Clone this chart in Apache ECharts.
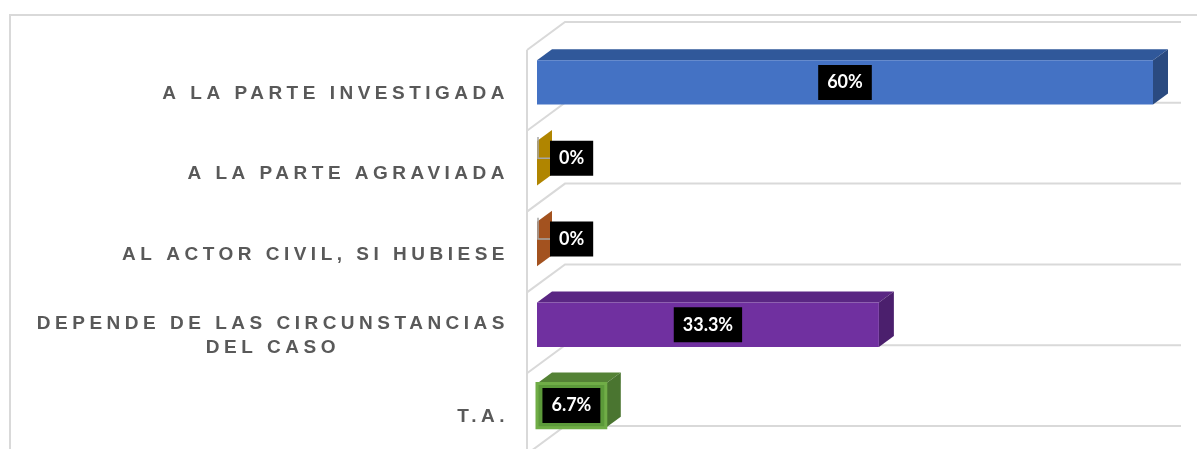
<!DOCTYPE html>
<html>
<head>
<meta charset="utf-8">
<title>chart</title>
<script src="https://cdn.jsdelivr.net/npm/echarts@6/dist/echarts.min.js"></script>
<style>
  html, body { margin: 0; padding: 0; background: #fff; }
  #chart { width: 1197px; height: 449px; }
</style>
</head>
<body>
<div id="chart"></div>
<script>
//datos
var categories = ['A LA PARTE INVESTIGADA', 'A LA PARTE AGRAVIADA', 'AL ACTOR CIVIL, SI HUBIESE', 'DEPENDE DE LAS CIRCUNSTANCIAS\nDEL CASO', 'T.A.'];
var values = [60, 0, 0, 33.3, 6.7];
var valueLabels = ['60%', '0%', '0%', '33.3%', '6.7%'];
var axisMax = 60;

//colores de cada barra (frente, tapa, lado)
var frontColors = ['#4472C4', '#BF9000', '#C55A11', '#7030A0', '#5C9A3A'];
var topColors = ['#30589A', '#9E7700', '#A34B0E', '#5A2683', '#548235'];
var sideColors = ['#2A4A80', '#B08500', '#A3521F', '#4B1F6D', '#4A7530'];
var frontBorders = [null, null, null, null, '#70AD47'];

//Excel separa las letras de las categorias; el canvas necesita ayuda
var LABEL_SPACING = '4.5px';
(function () {
  var proto = CanvasRenderingContext2D.prototype;
  var rawFill = proto.fillText;
  var rawMeasure = proto.measureText;
  function setSpacing(ctx) {
    ctx.letterSpacing = ctx.font.indexOf('Liberation') > -1 ? LABEL_SPACING : '0px';
  }
  proto.fillText = function () {
    setSpacing(this);
    return rawFill.apply(this, arguments);
  };
  proto.measureText = function () {
    setSpacing(this);
    return rawMeasure.apply(this, arguments);
  };
})();

//profundidad 3D
var BAR_DX = 15, BAR_DY = 11;
var FRONT_DX = -10, FRONT_DY = 8;
var BACK_DX = 28, BACK_DY = -20;
var wallStyle = { fill: 'none', stroke: '#d9d9d9', lineWidth: 2 };

var chart = echarts.init(document.getElementById('chart'));

function renderWall(params, api) {
  var i = api.value(1);
  var band = api.size([0, 1])[1];
  var left = api.coord([0, i])[0];
  var right = api.coord([axisMax, i])[0];
  var top = api.coord([0, i])[1] - band / 2;
  var children = [];

  function edge(y) {
    return {
      type: 'polyline',
      shape: { points: [[left + FRONT_DX, y + FRONT_DY], [left + BACK_DX, y + BACK_DY], [right + BACK_DX, y + BACK_DY]] },
      style: wallStyle
    };
  }

  children.push(edge(top));
  if (i === categories.length - 1) {
    children.push(edge(top + band));
  }
  if (i === 0) {
    children.push({
      type: 'line',
      shape: { x1: left + FRONT_DX, y1: top + FRONT_DY, x2: left + FRONT_DX, y2: top + FRONT_DY + band * categories.length },
      style: wallStyle
    });
  }
  return { type: 'group', children: children };
}

function renderBar(params, api) {
  var i = api.value(0);
  var v = api.value(1);
  var start = api.coord([0, i]);
  var end = api.coord([v, i]);
  var h = api.size([0, 1])[1] * 0.55;
  var x0 = start[0], x1 = end[0];
  var yt = start[1] - h / 2, yb = start[1] + h / 2;
  var children = [];

  //tapa
  children.push({
    type: 'polygon',
    shape: { points: [[x0, yt], [x1, yt], [x1 + BAR_DX, yt - BAR_DY], [x0 + BAR_DX, yt - BAR_DY]] },
    style: { fill: topColors[i] }
  });
  //lado
  children.push({
    type: 'polygon',
    shape: { points: [[x1, yt], [x1 + BAR_DX, yt - BAR_DY], [x1 + BAR_DX, yb - BAR_DY], [x1, yb]] },
    style: { fill: sideColors[i] }
  });
  //frente
  if (v > 0) {
    children.push({
      type: 'rect',
      shape: { x: x0, y: yt, width: x1 - x0, height: h },
      style: {
        fill: frontColors[i],
        stroke: frontBorders[i] || null,
        lineWidth: frontBorders[i] ? 3 : 0
      }
    });
  } else {
    //borde gris de la cara frontal vacia
    children.push({
      type: 'polyline',
      shape: { points: [[x0 + 1, yt - 4], [x0 + 1, start[1] - 5], [x0 + 13, start[1] - 5]] },
      style: { fill: 'none', stroke: '#a6a6a6', lineWidth: 1.5 }
    });
  }

  //etiqueta
  var labelStyle = {
    text: valueLabels[i],
    fill: '#fff',
    fontFamily: 'Lato',
    fontWeight: 'bold',
    fontSize: 18,
    lineHeight: 19,
    backgroundColor: '#000',
    padding: [8, 9],
    verticalAlign: 'middle'
  };
  if (v > 0) {
    labelStyle.align = 'center';
    children.push({ type: 'text', x: (x0 + x1) / 2, y: start[1], style: labelStyle });
  } else {
    labelStyle.align = 'left';
    children.push({ type: 'text', x: x0 + 13, y: start[1] - 5, style: labelStyle });
  }

  return { type: 'group', children: children };
}

var option = {
  animation: false,
  backgroundColor: '#fff',
  graphic: [{
    type: 'rect',
    silent: true,
    z: -10,
    shape: { x: 10, y: 15, width: 1400, height: 700 },
    style: { fill: 'none', stroke: '#d9d9d9', lineWidth: 2 }
  }],
  grid: {
    left: 537,
    right: 44,
    top: 42,
    bottom: 3,
    containLabel: false,
    outerBoundsMode: 'none'
  },
  xAxis: {
    type: 'value',
    min: 0,
    max: axisMax,
    show: false,
    splitLine: { show: false }
  },
  yAxis: {
    type: 'category',
    data: categories,
    inverse: true,
    axisLine: { show: false },
    axisTick: { show: false },
    splitLine: { show: false },
    axisLabel: {
      margin: 28,
      padding: [22, 0, 0, 0],
      formatter: function (val) {
        return val.split('\n').map(function (s) {
          return '{c|' + s + '}';
        }).join('\n');
      },
      rich: {
        c: {
          align: 'center',
          fontFamily: 'Liberation Sans',
          fontWeight: 'bold',
          fontSize: 19,
          lineHeight: 24,
          color: '#595959'
        }
      }
    }
  },
  series: [{
    type: 'custom',
    name: 'paredes',
    silent: true,
    z: 1,
    renderItem: renderWall,
    encode: { x: 0, y: 1 },
    data: categories.map(function (c, i) {
      return [0, i];
    })
  }, {
    type: 'custom',
    name: 'valores',
    z: 2,
    renderItem: renderBar,
    encode: { x: 1, y: 0 },
    data: values.map(function (v, i) {
      return [i, v];
    })
  }]
};

chart.setOption(option);
</script>
</body>
</html>
